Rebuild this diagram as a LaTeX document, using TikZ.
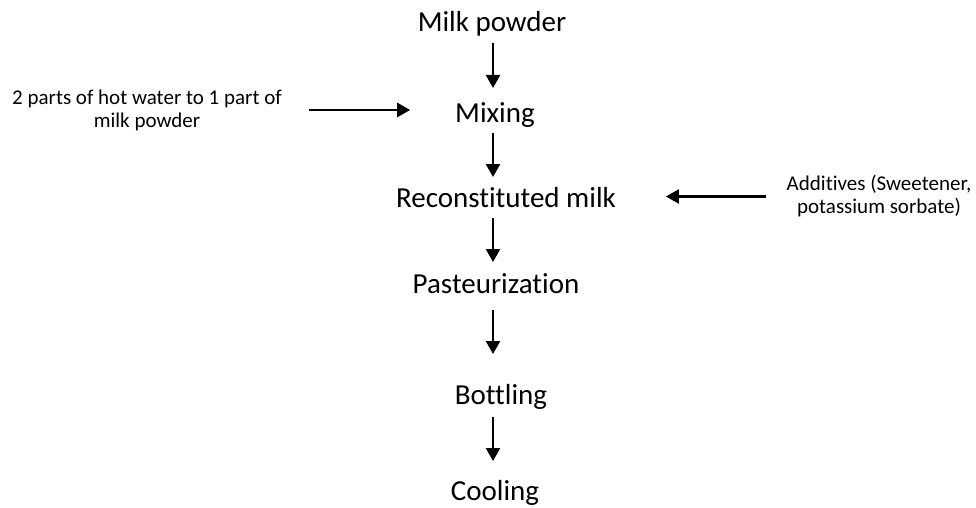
\documentclass[tikz,border=0pt]{standalone}
\usepackage{fontspec}
\setmainfont{Carlito}[Ligatures=NoCommon]
\usetikzlibrary{arrows.meta}

\tikzset{
	stage/.style={inner sep=0pt,outer sep=0pt,anchor=base,text height=20pt,text depth=6pt,font=\fontsize{29}{35}\selectfont},
	note/.style={inner sep=0pt,outer sep=0pt,align=center,font=\fontsize{21}{23}\selectfont},
	flow/.style={-{Triangle[length=13pt,width=14pt]},line width=2.4pt},
}

\begin{document}
\begin{tikzpicture}[x=1pt,y=-1pt]
	
	\useasboundingbox (0,0) rectangle (976,508);
	\coordinate (spine) at (493,0);
	
	%%%%%%%%%%%%%%%%%%%%%%%%%%%%%%%%%%%%%%%%%%%%%%%%%%%%%%
	
	\node [stage] (milk-powder) at (492,32) {Milk powder};
	\node [stage] (mixing) at (495,123) {Mixing};
	\node [stage] (reconstituted-milk) at (506,207) {Reconstituted milk};
	\node [stage] (pasteurization) at (496,293) {Pasteurization};
	\node [stage] (bottling) at (501,404) {Bottling};
	\node [stage] (cooling) at (495,500) {Cooling};
	
	%%%%%%%%%%%%%%%%%%%%%%%%%%%%%%%%%%%%%%%%%%%%%%%%%%%%%%
	
	\node [note] (water-text) at (147,110) {2 parts of hot water to 1 part of\\milk powder};
	\node [note] (additives-text) at (879,196.5) {Additives (Sweetener,\\potassium sorbate)};
	
	%%%%%%%%%%%%%%%%%%%%%%%%%%%%%%%%%%%%%%%%%%%%%%%%%%%%%%
	
	\draw [flow,shorten <=5pt,shorten >=15pt] (milk-powder.south -| spine) -- (mixing.north -| spine);
	\draw [flow,shorten <=4pt,shorten >=10pt] (mixing.south -| spine) -- (reconstituted-milk.north -| spine);
	\draw [flow,shorten <=5pt,shorten >=11pt] (reconstituted-milk.south -| spine) -- (pasteurization.north -| spine);
	\draw [flow,shorten <=11pt,shorten >=30pt] (pasteurization.south -| spine) -- (bottling.north -| spine);
	\draw [flow,shorten <=7pt,shorten >=19pt] (bottling.south -| spine) -- (cooling.north -| spine);
	%
	\draw [flow,shorten <=27pt,shorten >=45pt] (water-text.east) -- (water-text.east -| mixing.west);
	\draw [flow,shorten <=21pt,shorten >=50pt] (additives-text.west) -- (additives-text.west -| reconstituted-milk.east);
	
	%%%%%%%%%%%%%%%%%%%%%%%%%%%%%%%%%%%%%%%%%%%%%%%%%%%%%%
	
\end{tikzpicture}
\end{document}
